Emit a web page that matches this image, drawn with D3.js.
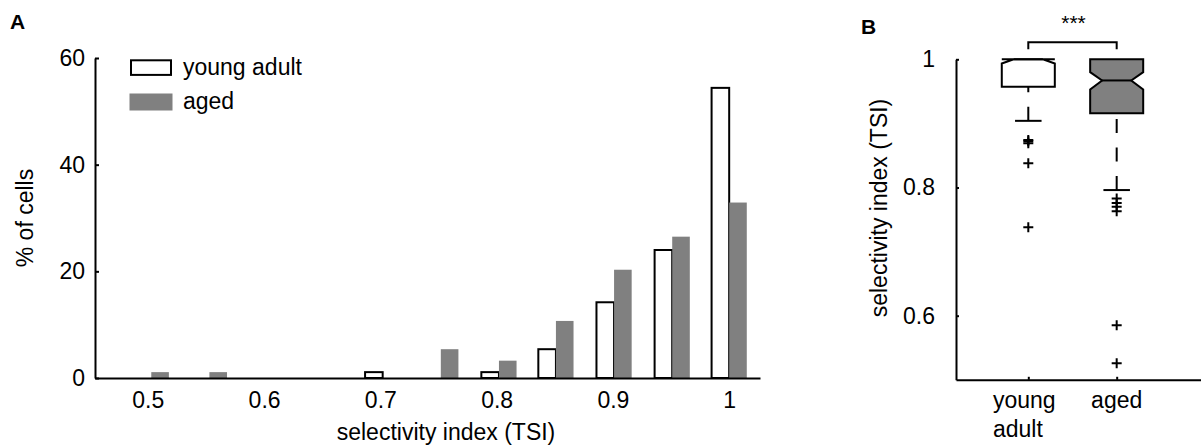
<!DOCTYPE html>
<html>
<head>
<meta charset="utf-8">
<script src="https://cdn.jsdelivr.net/npm/d3@7"></script>
<style>
  html, body { margin: 0; padding: 0; background: #fff; }
  svg { display: block; }
  text { font-family: "Liberation Sans", Arial, Helvetica, sans-serif; fill: #000; }
  .lbl { font-size: 23px; }
</style>
</head>
<body>
<svg id="chart" width="1201" height="448"></svg>
<script>
// ---------- Panel A data (histogram, % of cells) ----------
const binCenters = [0.503, 0.553, 0.603, 0.652, 0.702, 0.752, 0.802, 0.851, 0.901, 0.951, 1.000];
const youngPct   = [0,     0,     0,     0,     1.1,   0,     1.1,   5.4,   14.2,  24.0,  54.4];
const agedPct    = [1.1,   1.1,   0,     0,     0,     5.4,   3.25,  10.7,  20.3,  26.5,  32.9];
const xTicksA = [0.5, 0.6, 0.7, 0.8, 0.9, 1];
const yTicksA = [0, 20, 40, 60];
const seriesNames = ["young adult", "aged"];

// ---------- Panel B data (notched box plots, TSI) ----------
const groups   = ["young adult", "aged"];
const groupLabelLines = [["young", "adult"], ["aged"]];
const q1       = [0.957, 0.916];
const medians  = [1.000, 0.967];
const q3       = [1.000, 1.000];
const whiskLo  = [0.904, 0.796];
const whiskHi  = [1.000, 1.000];
const notchLo  = [0.9935, 0.953];
const notchHi  = [1.000, 0.980];
const outliers = [
  [0.874, 0.872, 0.869, 0.838, 0.738],
  [0.783, 0.776, 0.770, 0.763, 0.585, 0.526]
];
const yTicksB = [0.6, 0.8, 1];
const sigText = "***";

const GRAY = "#808080";
const svg = d3.select("#chart");
svg.append("rect").attr("width", 1201).attr("height", 448).attr("fill", "#fff");

const fmt = d => (d === 1 ? "1" : d3.format(".1f")(d));

// ================= Panel A =================
const xA = d3.scaleLinear().domain([0.4546, 1.0265]).range([95, 760]);
const yA = d3.scaleLinear().domain([0, 60]).range([378, 58]);
const barW = 17.6;

const gA = svg.append("g");

gA.selectAll("rect.young").data(binCenters.map((c, i) => ({c, v: youngPct[i]})).filter(d => d.v > 0))
  .join("rect").attr("class", "young")
  .attr("x", d => xA(d.c) - barW).attr("width", barW)
  .attr("y", d => yA(d.v)).attr("height", d => yA(0) - yA(d.v))
  .attr("fill", "#fff").attr("stroke", "#000").attr("stroke-width", 2);

gA.selectAll("rect.aged").data(binCenters.map((c, i) => ({c, v: agedPct[i]})).filter(d => d.v > 0))
  .join("rect").attr("class", "aged")
  .attr("x", d => xA(d.c)).attr("width", barW)
  .attr("y", d => yA(d.v)).attr("height", d => yA(0) - yA(d.v))
  .attr("fill", GRAY);

// y axis
const yAxA = gA.append("g").attr("transform", `translate(${xA.range()[0]},0)`)
  .call(d3.axisLeft(yA).tickValues(yTicksA).tickFormat(d3.format("d"))
        .tickSizeInner(-4).tickSizeOuter(0).tickPadding(10));
yAxA.select(".domain").attr("stroke-width", 2);
yAxA.selectAll(".tick line").attr("stroke-width", 2);
yAxA.selectAll(".tick text").attr("class", "lbl");
yAxA.attr("font-size", null).attr("font-family", null);

// x axis
const xAxA = gA.append("g").attr("transform", `translate(0,${yA(0)})`)
  .call(d3.axisBottom(xA).tickValues(xTicksA).tickFormat(fmt).tickSize(0).tickPadding(14));
xAxA.select(".domain").attr("stroke-width", 2);
xAxA.selectAll(".tick text").attr("class", "lbl");
xAxA.attr("font-size", null).attr("font-family", null);

// axis titles
gA.append("text").attr("class", "lbl").attr("text-anchor", "middle")
  .attr("x", 446).attr("y", 440).text("selectivity index (TSI)");
gA.append("text").attr("class", "lbl").attr("text-anchor", "middle")
  .attr("transform", "translate(33,218) rotate(-90)").text("% of cells");

// panel letter
svg.append("text").attr("x", 10).attr("y", 28.5).attr("font-size", 21)
  .attr("font-weight", "bold").text("A");

// legend
const leg = gA.append("g");
leg.append("rect").attr("x", 131).attr("y", 60.3).attr("width", 40).attr("height", 14.6)
  .attr("fill", "#fff").attr("stroke", "#000").attr("stroke-width", 2);
leg.append("rect").attr("x", 129.5).attr("y", 93.5).attr("width", 43).attr("height", 17)
  .attr("fill", GRAY);
leg.append("text").attr("class", "lbl").attr("x", 183).attr("y", 74.5).text(seriesNames[0]);
leg.append("text").attr("class", "lbl").attr("x", 183).attr("y", 109).text(seriesNames[1]);

// ================= Panel B =================
const xB = d3.scaleLinear().domain([0.182, 2.954]).range([956, 1201]);
const yB = d3.scaleLinear().domain([0.5, 1]).range([379.8, 59.3]);
const gB = svg.append("g");

const boxHalf = 0.3, notchHalf = 0.165, capHalf = 0.15;

groups.forEach((g, i) => {
  const c = i + 1;
  const L = xB(c - boxHalf), R = xB(c + boxHalf);
  const nL = xB(c - notchHalf), nR = xB(c + notchHalf);
  const pts = [
    [L, yB(q1[i])], [L, yB(notchLo[i])], [nL, yB(medians[i])], [L, yB(notchHi[i])], [L, yB(q3[i])],
    [R, yB(q3[i])], [R, yB(notchHi[i])], [nR, yB(medians[i])], [R, yB(notchLo[i])], [R, yB(q1[i])]
  ];
  gB.append("path").attr("d", d3.line()(pts) + "Z")
    .attr("fill", i === 0 ? "#fff" : GRAY).attr("stroke", "#000").attr("stroke-width", 2)
    .attr("stroke-linejoin", "miter");
  gB.append("line").attr("x1", nL).attr("x2", nR)
    .attr("y1", yB(medians[i])).attr("y2", yB(medians[i]))
    .attr("stroke", "#000").attr("stroke-width", 2);
  gB.append("line").attr("x1", xB(c)).attr("x2", xB(c))
    .attr("y1", yB(whiskLo[i])).attr("y2", yB(q1[i]))
    .attr("stroke", "#000").attr("stroke-width", 2).attr("stroke-dasharray", "14,14.5");
  gB.append("line").attr("x1", xB(c - capHalf)).attr("x2", xB(c + capHalf))
    .attr("y1", yB(whiskLo[i])).attr("y2", yB(whiskLo[i]))
    .attr("stroke", "#000").attr("stroke-width", 2);
  outliers[i].forEach(v => {
    const px = xB(c), py = yB(v);
    gB.append("path").attr("d", `M${px - 5},${py}H${px + 5}M${px},${py - 5}V${py + 5}`)
      .attr("stroke", "#000").attr("stroke-width", 2).attr("fill", "none");
  });
});

// y axis B
const yAxB = gB.append("g").attr("transform", `translate(${xB.range()[0]},0)`)
  .call(d3.axisLeft(yB).tickValues(yTicksB).tickFormat(fmt)
        .tickSizeInner(-3).tickSizeOuter(0).tickPadding(21));
yAxB.select(".domain").attr("stroke-width", 2);
yAxB.selectAll(".tick line").attr("stroke-width", 2);
yAxB.selectAll(".tick text").attr("class", "lbl");
yAxB.attr("font-size", null).attr("font-family", null);

// x axis B
const xAxB = gB.append("g").attr("transform", `translate(0,${yB(0.5)})`)
  .call(d3.axisBottom(xB).tickValues([1, 2]).tickFormat("")
        .tickSizeInner(-3).tickSizeOuter(0));
xAxB.select(".domain").attr("stroke-width", 2);
xAxB.selectAll(".tick line").attr("stroke-width", 2);

// category labels
const catLbl = gB.append("g");
groupLabelLines.forEach((lines, i) => {
  const multi = lines.length > 1;
  const x0 = multi ? xB(i + 1) - 35.3 : xB(i + 1);
  const t = catLbl.append("text").attr("class", "lbl")
    .attr("text-anchor", multi ? "start" : "middle")
    .attr("x", x0).attr("y", 408.3);
  lines.forEach((ln, k) => {
    t.append("tspan").attr("x", x0).attr("dy", k === 0 ? 0 : 28.4).text(ln);
  });
});

// y title B
gB.append("text").attr("class", "lbl").attr("text-anchor", "middle")
  .attr("transform", "translate(887,208) rotate(-90)").text("selectivity index (TSI)");

// significance bracket
const brTop = yB(1.0265), brBot = yB(1.0156);
gB.append("path")
  .attr("d", `M${xB(1)},${brBot}V${brTop}H${xB(2)}V${brBot}`)
  .attr("fill", "none").attr("stroke", "#000").attr("stroke-width", 2);
gB.append("text").attr("text-anchor", "middle")
  .attr("font-size", 21).attr("x", (xB(1) + xB(2)) / 2 + 1).attr("y", 29.5).text(sigText);

svg.append("text").attr("x", 861).attr("y", 33.5).attr("font-size", 21)
  .attr("font-weight", "bold").text("B");
</script>
</body>
</html>
